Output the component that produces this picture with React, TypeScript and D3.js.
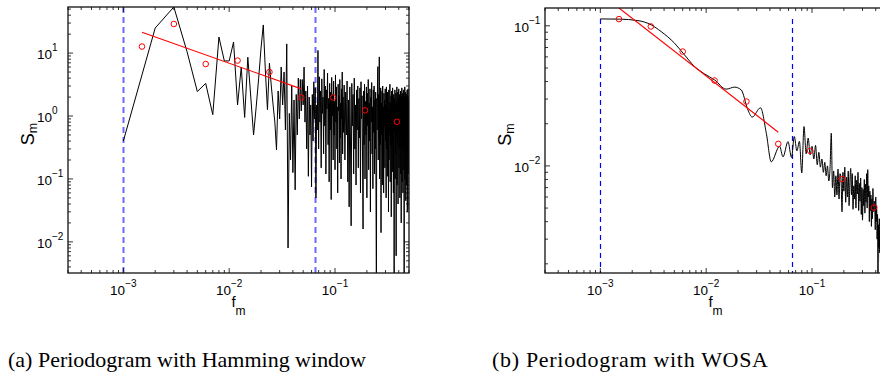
import React from "react";
import * as d3 from "d3";

const W = 880;
const H = 374;

// ---------- (a) Periodogram with Hamming window ----------
// bins k = 1..120, f = k * 0.001
const hammingLow = [
  0.4, 25, 54, 10.5, 2.45, 3.3, 1.05, 18, 7.5, 7.5,
  15, 1.5, 6.0, 0.95, 8.6, 2.0, 0.5, 1.4, 4.0, 12,
  28, 5.0, 1.26, 6.9, 3.0, 1.5, 0.8, 0.29, 2.5, 0.9,
  6.0, 1.5, 5.0, 0.6, 14, 0.008, 1.1, 0.2, 3.0, 0.126,
  1.8, 0.067, 2.2, 0.5, 4.0, 0.9, 3.8, 1.2, 3.8, 1.5,
  6.0, 0.8, 2.5, 0.3, 3.0, 0.11, 2.0, 0.5, 1.5, 0.075,
  2.2, 0.4, 3.5, 0.9, 2.8, 0.05, 1.5, 0.6, 11, 0.3,
  4.2, 0.8, 2.5, 0.15, 3.9, 1.1, 2.0, 0.25, 5.5, 0.7,
  3.0, 0.12, 2.6, 1.3, 4.8, 0.35, 1.9, 0.09, 3.3, 0.6,
  2.4, 0.047, 4.1, 1.0, 2.2, 0.2, 3.6, 0.5, 1.7, 0.14,
  4.5, 0.8, 2.9, 0.3, 1.4, 0.06, 3.2, 1.2, 2.1, 0.18,
  3.8, 0.45, 1.6, 0.1, 2.7, 0.9, 5.0, 0.25, 2.0, 0.55,
];
// bins k = 122, 124, ..., 500
const hammingHigh = [
  3.1, 0.2, 2.4, 0.5, 3.6, 0.09, 1.8, 0.036, 2.9, 0.4,
  0.018, 3.3, 0.7, 2.2, 0.12, 4.0, 0.3, 1.5, 0.08, 2.6,
  0.6, 3.0, 0.15, 1.9, 0.45, 2.8, 0.06, 3.5, 0.9, 2.1,
  0.2, 0.016, 2.5, 0.35, 3.2, 0.1, 1.7, 0.5, 2.9, 0.05,
  2.3, 0.7, 3.8, 0.14, 1.6, 0.4, 2.7, 0.03, 2.0, 0.8,
  3.4, 0.25, 1.4, 0.07, 2.6, 0.55, 3.0, 0.12, 1.8, 0.3,
  2.4, 0.04, 0.002, 1.9, 0.6, 3.1, 6.1, 0.2, 2.2, 0.45,
  8.7, 0.1, 2.0, 0.35, 2.8, 0.014, 1.6, 0.5, 2.5, 0.08,
  3.0, 0.25, 1.4, 0.06, 2.3, 0.7, 1.8, 0.15, 2.7, 0.4,
  1.5, 0.05, 2.9, 0.3, 1.9, 0.11, 2.4, 0.6, 1.3, 0.03,
  2.6, 0.2, 1.7, 0.5, 3.2, 0.09, 1.6, 0.35, 2.1, 0.025,
  2.5, 0.7, 1.4, 0.13, 2.8, 0.4, 1.8, 0.06, 2.2, 0.3,
  0.002, 1.9, 0.55, 2.6, 0.1, 1.5, 0.25, 2.3, 0.006, 1.7,
  0.45, 2.9, 0.08, 1.6, 0.35, 2.4, 0.04, 1.9, 0.6, 2.7,
  0.15, 1.4, 0.3, 2.2, 0.05, 1.8, 0.5, 2.5, 0.12, 1.6,
  0.02, 2.1, 0.4, 2.8, 0.09, 1.5, 0.3, 2.3, 0.06, 1.9,
  0.65, 2.6, 0.14, 1.7, 0.002, 2.0, 0.35, 2.9, 0.1, 1.6,
  0.5, 2.4, 0.045, 1.8, 0.25, 2.2, 0.08, 1.5, 0.4, 2.6,
  0.03, 1.9, 0.6, 2.3, 2.7, 0.12, 1.7, 0.35, 2.0, 0.032,
];

// octave band centres and band averages
const bandF = [0.0015, 0.003, 0.006, 0.012, 0.024, 0.048, 0.096, 0.192, 0.384];
const hammingBandS = [12.7, 29, 6.7, 7.6, 5.0, 1.97, 1.97, 1.23, 0.81];
const fitF = [0.0015, 0.048];
const hammingFitS = [21.5, 2.7];

// ---------- (b) Periodogram with WOSA ----------
const wosaSmoothF = [
  0.001, 0.00151, 0.00226, 0.00302, 0.00375, 0.00502, 0.00624, 0.00775,
  0.00963, 0.012, 0.01546, 0.01853, 0.0214, 0.0248, 0.0272, 0.0326,
  0.037, 0.0412, 0.0494, 0.0532, 0.0593,
];
const wosaSmoothS = [
  0.112, 0.1116, 0.109, 0.1016, 0.091, 0.0752, 0.062, 0.0513,
  0.0454, 0.0411, 0.0353, 0.0365, 0.0349, 0.0251, 0.0223, 0.026,
  0.0171, 0.0107, 0.0138, 0.0116, 0.0149,
];
// f = 0.064, 0.068, ..., 0.452
const wosaNoisyS = [
  0.0115, 0.0162, 0.0128, 0.015, 0.0089, 0.0191, 0.0122, 0.0158, 0.012, 0.0138,
  0.0112, 0.014, 0.0102, 0.0125, 0.0098, 0.0112, 0.009, 0.0106, 0.0085, 0.01,
  0.0078, 0.0096, 0.0171, 0.007, 0.0092, 0.006, 0.0085, 0.0062, 0.0095, 0.0058,
  0.0088, 0.008, 0.0047, 0.009, 0.0066, 0.0098, 0.0055, 0.0083, 0.006, 0.0092,
  0.0052, 0.0078, 0.0096, 0.0062, 0.0088, 0.0049, 0.0072, 0.0058, 0.0085, 0.005,
  0.0079, 0.0063, 0.009, 0.0048, 0.0075, 0.0056, 0.0082, 0.0045, 0.007, 0.0041,
  0.0068, 0.0052, 0.008, 0.0046, 0.0074, 0.0055, 0.0088, 0.005, 0.0094, 0.006,
  0.0072, 0.004, 0.0066, 0.0048, 0.0062, 0.0037, 0.0058, 0.0042, 0.0069, 0.005,
  0.0047, 0.0056, 0.0049, 0.0035, 0.006, 0.004, 0.0052, 0.003, 0.0045, 0.0015,
  0.0038, 0.0026, 0.0042, 0.0024, 0.0034, 0.002, 0.003, 0.0016,
];
const wosaBandS = [0.1116, 0.0989, 0.0655, 0.0407, 0.0288, 0.01436, 0.0128, 0.00807, 0.00504];
const wosaFitS = [0.134, 0.0174];

const cutF = [0.001, 0.064];
const xDomain: [number, number] = [3e-4, 0.5];
const xTickValues = [1e-3, 1e-2, 1e-1];
const hammingYDomain: [number, number] = [0.0032, 54];
const hammingYTicks = [1e-2, 1e-1, 1, 10];
const wosaYDomain: [number, number] = [0.00172, 0.134];
const wosaYTicks = [1e-2, 1e-1];

const captions = ["(a) Periodogram with Hamming window", "(b) Periodogram with WOSA"];

type Pt = [number, number];

function minorTicks(domain: [number, number]) {
  const out: number[] = [];
  const lo = Math.floor(Math.log10(domain[0]));
  const hi = Math.ceil(Math.log10(domain[1]));
  for (let e = lo; e <= hi; e++) {
    for (let m = 2; m <= 9; m++) {
      const v = m * Math.pow(10, e);
      if (v >= domain[0] && v <= domain[1]) out.push(v);
    }
  }
  return out;
}

const SANS = "'Liberation Sans', Arial, Helvetica, sans-serif";
const SERIF = "'Liberation Serif', 'Times New Roman', serif";

function Pow10({ x, y, v, anchor }: { x: number; y: number; v: number; anchor: string }) {
  const e = Math.round(Math.log10(v));
  const es = e < 0 ? "\u2212" + Math.abs(e) : String(e);
  return (
    <text x={x} y={y} fontFamily={SANS} fontSize={13.5} textAnchor={anchor} fill="#000">
      10
      <tspan fontSize={10} dy={-8}>{es}</tspan>
    </text>
  );
}

function Panel(props: {
  id: string;
  x0: number; x1: number; y0: number; y1: number;
  yDomain: [number, number]; yTicks: number[];
  data: Pt[]; smooth: boolean;
  bandS: number[]; fitS: number[];
  dashColor: string; dashWidth: number; dash: string;
}) {
  const { id, x0, x1, y0, y1, yDomain, yTicks, data, smooth, bandS, fitS } = props;
  const x = d3.scaleLog().domain(xDomain).range([x0, x1]);
  const y = d3.scaleLog().domain(yDomain).range([y1, y0]);
  const line = d3
    .line<Pt>()
    .x((d) => x(d[0]))
    .y((d) => y(d[1]))
    .curve(smooth ? d3.curveMonotoneX : d3.curveLinear);
  const dataMax = d3.max(data, (d) => d[1]) as number;
  const fitPts: Pt[] = fitF.map((f, i) => [f, fitS[i]]);
  const xMinor = minorTicks(xDomain);
  const yMinor = minorTicks(yDomain);
  const maj = 5;
  const mnr = 3;
  const cx = (x0 + x1) / 2;
  const cy = (y0 + y1) / 2 - 6;
  return (
    <g>
      <defs>
        <clipPath id={id}>
          <rect x={x0} y={y0} width={x1 - x0} height={y1 - y0} />
        </clipPath>
      </defs>
      <g clipPath={`url(#${id})`}>
        {cutF.map((f, i) => (
          <line key={i} x1={Math.round(x(f)) + 0.5} x2={Math.round(x(f)) + 0.5} y1={y(dataMax)} y2={y1}
            stroke={props.dashColor} strokeWidth={props.dashWidth} strokeDasharray={props.dash} />
        ))}
        <path d={line(data) as string} fill="none" stroke="#000" strokeWidth={1} strokeLinejoin="round" />
        <path d={d3.line<Pt>().x((d) => x(d[0])).y((d) => y(d[1]))(fitPts) as string}
          fill="none" stroke="#ff0000" strokeWidth={1.1} />
        {bandF.map((f, i) => (
          <circle key={i} cx={x(f)} cy={y(bandS[i])} r={2.8} fill="none" stroke="#ff0000" strokeWidth={1} />
        ))}
      </g>
      <g stroke="#000" strokeWidth={0.8}>
        {xTickValues.map((t) => (
          <g key={"xm" + t}>
            <line x1={x(t)} x2={x(t)} y1={y1} y2={y1 - maj} />
            <line x1={x(t)} x2={x(t)} y1={y0} y2={y0 + maj} />
          </g>
        ))}
        {xMinor.map((t) => (
          <g key={"xn" + t}>
            <line x1={x(t)} x2={x(t)} y1={y1} y2={y1 - mnr} />
            <line x1={x(t)} x2={x(t)} y1={y0} y2={y0 + mnr} />
          </g>
        ))}
        {yTicks.map((t) => (
          <g key={"ym" + t}>
            <line x1={x0} x2={x0 + maj} y1={y(t)} y2={y(t)} />
            <line x1={x1} x2={x1 - maj} y1={y(t)} y2={y(t)} />
          </g>
        ))}
        {yMinor.map((t) => (
          <g key={"yn" + t}>
            <line x1={x0} x2={x0 + mnr} y1={y(t)} y2={y(t)} />
            <line x1={x1} x2={x1 - mnr} y1={y(t)} y2={y(t)} />
          </g>
        ))}
      </g>
      <rect x={x0} y={y0} width={x1 - x0} height={y1 - y0} fill="none" stroke="#111" strokeWidth={1.3} />
      {xTickValues.map((t) => (
        <Pow10 key={"xl" + t} x={x(t)} y={y1 + 22} v={t} anchor="middle" />
      ))}
      {yTicks.map((t) => (
        <Pow10 key={"yl" + t} x={x0 - 31} y={y(t) + 6} v={t} anchor="start" />
      ))}
      <text x={cx} y={y1 + 34} fontFamily={SANS} fontSize={15} textAnchor="middle">
        f<tspan fontSize={12} dy={8}>m</tspan>
      </text>
      <text transform={`translate(${x0 - 34},${cy}) rotate(-90)`} fontFamily={SANS} fontSize={18} textAnchor="middle">
        S<tspan fontSize={12.5} dy={3}>m</tspan>
      </text>
    </g>
  );
}

export default function App() {
  const hammingData: Pt[] = [
    ...hammingLow.map((v, i) => [(i + 1) * 0.001, v] as Pt),
    ...hammingHigh.map((v, i) => [(122 + 2 * i) * 0.001, v] as Pt),
  ];
  const wosaData: Pt[] = [
    ...wosaSmoothF.map((f, i) => [f, wosaSmoothS[i]] as Pt),
    ...wosaNoisyS.map((v, i) => [0.064 + 0.004 * i, v] as Pt),
  ];
  return (
    <svg width={W} height={H} style={{ position: "absolute", left: 0, top: 0, background: "#fff" }}>
      <rect width={W} height={H} fill="#fff" />
      <Panel id="clipA" x0={68} x1={409} y0={7} y1={273} yDomain={hammingYDomain} yTicks={hammingYTicks}
        data={hammingData} smooth={false} bandS={hammingBandS} fitS={hammingFitS}
        dashColor="#6a6aff" dashWidth={2} dash="6,4" />
      <Panel id="clipB" x0={545} x1={886} y0={8} y1={273} yDomain={wosaYDomain} yTicks={wosaYTicks}
        data={wosaData} smooth={true} bandS={wosaBandS} fitS={wosaFitS}
        dashColor="#0000ff" dashWidth={1.2} dash="5,4" />
      <text x={8} y={367} fontFamily={SERIF} fontSize={22}
        textLength={358} lengthAdjust="spacing">{captions[0]}</text>
      <text x={492} y={367} fontFamily={SERIF} fontSize={22}
        textLength={276} lengthAdjust="spacing">{captions[1]}</text>
    </svg>
  );
}
